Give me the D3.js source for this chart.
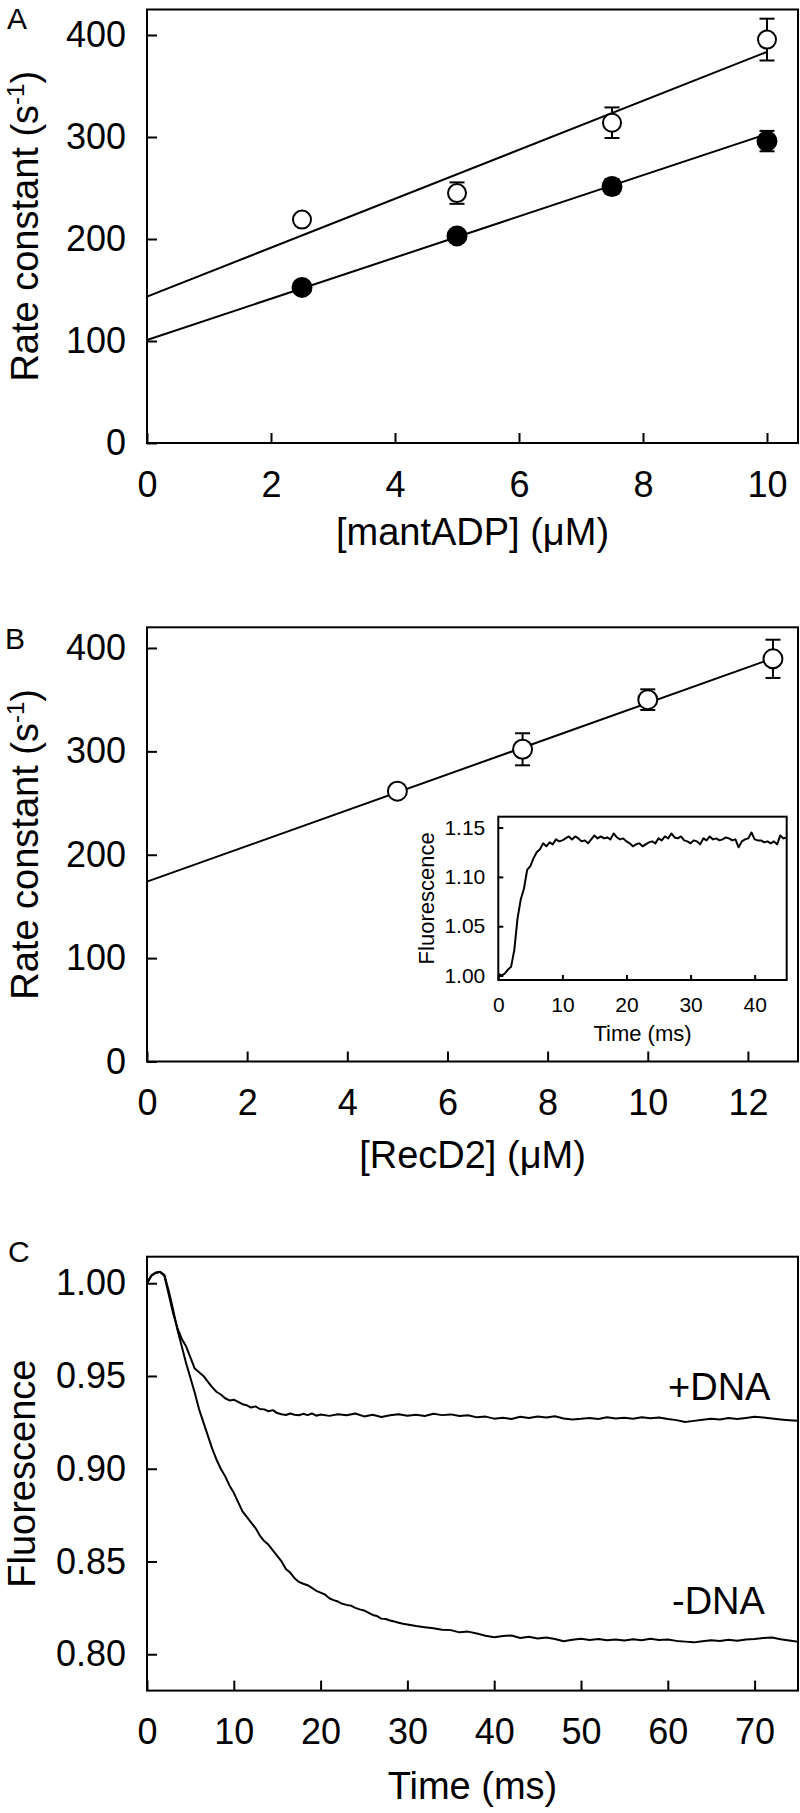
<!DOCTYPE html>
<html>
<head>
<meta charset="utf-8">
<script src="https://cdn.jsdelivr.net/npm/d3@7"></script>
<style>
html,body{margin:0;padding:0;background:#fff;}
svg{display:block;}
</style>
</head>
<body>
<svg id="chart" width="800" height="1813"></svg>
<script>
// ---------- DATA ----------
// Panel A
const aX = [2.5, 5, 7.5, 10];
const aOpen = [219, 245, 314, 395.5];
const aOpenErr = [0, 10.5, 15, 20.5];
const aFilled = [152.5, 203, 251.5, 296];
const aFilledErr = [0, 0, 7, 10];
const aOpenFit = [[0, 143.5], [10, 383.5]];
const aFilledFit = [[0, 101], [10, 303]];
const aXTicks = [0, 2, 4, 6, 8, 10];
const aYTicks = [0, 100, 200, 300, 400];

// Panel B
const bX = [5, 7.5, 10, 12.5];
const bVal = [261.5, 302, 350, 389.5];
const bErr = [0, 15.5, 10, 18.5];
const bFit = [[0, 174], [12.5, 390]];
const bXTicks = [0, 2, 4, 6, 8, 10, 12];
const bYTicks = [0, 100, 200, 300, 400];

// Panel B inset: fluorescence vs time (ms)
const insetTrace = [
[0,1.002],[0.5,1.000],[1,1.002],[1.5,1.006],[2,1.009],[2.5,1.026],[3,1.058],[3.5,1.077],[4,1.088],[4.5,1.107],
[5,1.111],[5.5,1.119],[6,1.125],[6.5,1.128],[7,1.134],[7.5,1.131],[8,1.135],[8.5,1.133],[9,1.138],[9.5,1.136],
[10,1.137],[10.5,1.139],[11,1.141],[11.5,1.138],[12,1.141],[12.5,1.139],[13,1.136],[13.5,1.137],[14,1.134],[14.5,1.138],
[15,1.142],[15.5,1.139],[16,1.141],[16.5,1.139],[17,1.140],[17.5,1.138],[18,1.144],[18.5,1.140],[19,1.138],[19.5,1.139],
[20,1.136],[20.5,1.134],[21,1.131],[21.5,1.133],[22,1.134],[22.5,1.131],[23,1.133],[23.5,1.135],[24,1.136],[24.5,1.134],
[25,1.139],[25.5,1.137],[26,1.141],[26.5,1.139],[27,1.144],[27.5,1.140],[28,1.139],[28.5,1.141],[29,1.137],[29.5,1.136],
[30,1.134],[30.5,1.137],[31,1.136],[31.5,1.133],[32,1.139],[32.5,1.137],[33,1.141],[33.5,1.138],[34,1.139],[34.5,1.137],
[35,1.138],[35.5,1.140],[36,1.139],[36.5,1.137],[37,1.138],[37.5,1.130],[38,1.136],[38.5,1.138],[39,1.139],[39.5,1.145],
[40,1.138],[40.5,1.137],[41,1.137],[41.5,1.135],[42,1.136],[42.5,1.134],[43,1.136],[43.5,1.133],[44,1.142],[44.5,1.139],[45,1.140]
];
const insetXTicks = [0, 10, 20, 30, 40];
const insetYTicks = [1.00, 1.05, 1.10, 1.15];

// Panel C traces: time (ms), fluorescence
const plusDNA = [
[0,1.000],[0.5,1.004],[1,1.0055],[1.5,1.006],[2,1.004],[2.5,0.994],[3,0.984],[3.5,0.976],[4,0.970],[4.5,0.966],
[5,0.960],[5.5,0.954],[6,0.952],[6.5,0.950],[7,0.947],[7.5,0.944],[8,0.9415],[8.5,0.940],[9,0.938],[9.5,0.9368],
[10,0.9372],[10.5,0.936],[11,0.9348],[11.5,0.9342],[12,0.933],[12.5,0.9336],[13,0.9322],[13.5,0.9320],[14,0.9310],[14.5,0.9316],
[15,0.9300],[15.5,0.9294],[16,0.9290],[16.5,0.9298],[17,0.9291],[17.5,0.9288],[18,0.9296],[18.5,0.9289],[19,0.9298],[19.5,0.9286],
[20,0.9292],[21,0.9285],[22,0.9294],[23,0.9288],[24,0.9298],[25,0.9282],[26,0.9291],[27,0.9279],[28,0.9288],[29,0.9294],
[30,0.9286],[31,0.9291],[32,0.9284],[33,0.9296],[34,0.9289],[35,0.9293],[36,0.9284],[37,0.9288],[38,0.9277],[39,0.9281],
[40,0.9270],[41,0.9275],[42,0.9268],[43,0.9280],[44,0.9274],[45,0.9282],[46,0.9276],[47,0.9283],[48,0.9271],[49,0.9266],
[50,0.9269],[51,0.9274],[52,0.9268],[53,0.9277],[54,0.9271],[55,0.9275],[56,0.9269],[57,0.9278],[58,0.9272],[59,0.9276],
[60,0.9268],[61,0.9262],[62,0.9252],[63,0.9258],[64,0.9264],[65,0.9270],[66,0.9266],[67,0.9273],[68,0.9268],[69,0.9274],
[70,0.9280],[71,0.9276],[72,0.9271],[73,0.9266],[74,0.9262],[75,0.9258]
];
const minusDNA = [
[0,1.000],[0.5,1.0042],[1,1.0058],[1.5,1.0062],[2,1.0045],[2.5,0.996],[3,0.986],[3.5,0.975],[4,0.966],[4.5,0.957],
[5,0.949],[5.5,0.941],[6,0.932],[6.5,0.925],[7,0.918],[7.5,0.911],[8,0.905],[8.5,0.900],[9,0.896],[9.5,0.891],
[10,0.887],[10.5,0.882],[11,0.877],[11.5,0.874],[12,0.871],[12.5,0.868],[13,0.864],[13.5,0.861],[14,0.859],[14.5,0.856],
[15,0.853],[15.5,0.850],[16,0.846],[16.5,0.844],[17,0.841],[17.5,0.839],[18,0.838],[18.5,0.8372],[19,0.8358],[19.5,0.8342],
[20,0.8332],[20.5,0.8322],[21,0.8302],[21.5,0.8292],[22,0.8284],[22.5,0.8272],[23,0.8266],[23.5,0.8262],[24,0.8250],[24.5,0.8242],
[25,0.8236],[25.5,0.8224],[26,0.8212],[26.5,0.8206],[27,0.8192],[27.5,0.8190],[28,0.8182],[28.5,0.8176],[29,0.8170],[29.5,0.8164],
[30,0.8160],[31,0.8152],[32,0.8146],[33,0.8140],[34,0.8132],[35,0.8130],[36,0.8118],[37,0.8122],[38,0.8112],[39,0.8100],
[40,0.8092],[41,0.8098],[42,0.8101],[43,0.8088],[44,0.8094],[45,0.8085],[46,0.8090],[47,0.8082],[48,0.8070],[49,0.8078],
[50,0.8084],[51,0.8077],[52,0.8082],[53,0.8075],[54,0.8080],[55,0.8074],[56,0.8081],[57,0.8076],[58,0.8083],[59,0.8077],
[60,0.8080],[61,0.8072],[62,0.8068],[63,0.8064],[64,0.8070],[65,0.8076],[66,0.8071],[67,0.8078],[68,0.8073],[69,0.8079],
[70,0.8082],[71,0.8088],[72,0.8090],[73,0.8081],[74,0.8074],[75,0.8067]
];
const cXTicks = [0, 10, 20, 30, 40, 50, 60, 70];
const cYTicks = [0.80, 0.85, 0.90, 0.95, 1.00];

// ---------- DRAWING ----------
const FONT = "'Liberation Sans', Arial, Helvetica, sans-serif";
const svg = d3.select("#chart");
const TICK_FS = 36, TITLE_FS = 38;

function frame(g, x, y) {
  g.append("rect")
    .attr("x", x.range()[0]).attr("y", y.range()[1])
    .attr("width", x.range()[1] - x.range()[0])
    .attr("height", y.range()[0] - y.range()[1])
    .attr("fill", "none").attr("stroke", "#000").attr("stroke-width", 2);
}

function axes(g, x, y, xt, yt, opt) {
  const o = Object.assign({fs: TICK_FS, tick: 10, padY: 21, padX: 28, fmtX: d3.format("d"), fmtY: d3.format("d")}, opt || {});
  const gx = g.append("g").attr("transform", `translate(0,${y.range()[0]})`)
    .call(d3.axisBottom(x).tickValues(xt).tickFormat(o.fmtX).tickSizeInner(-o.tick).tickSizeOuter(0).tickPadding(o.padX));
  const gy = g.append("g").attr("transform", `translate(${x.range()[0]},0)`)
    .call(d3.axisLeft(y).tickValues(yt).tickFormat(o.fmtY).tickSizeInner(-o.tick).tickSizeOuter(0).tickPadding(o.padY));
  [gx, gy].forEach(a => {
    a.select(".domain").remove();
    a.selectAll(".tick line").attr("stroke", "#000").attr("stroke-width", 2);
    a.selectAll(".tick text").attr("font-family", FONT).attr("font-size", o.fs).attr("fill", "#000");
  });
}

function errorBars(g, x, y, xs, vs, es, cap) {
  xs.forEach((xv, i) => {
    if (!es[i]) return;
    const cx = x(xv), y1 = y(vs[i] + es[i]), y2 = y(vs[i] - es[i]);
    g.append("line").attr("x1", cx).attr("x2", cx).attr("y1", y1).attr("y2", y2).attr("stroke", "#000").attr("stroke-width", 2);
    [y1, y2].forEach(yy => g.append("line").attr("x1", cx - cap).attr("x2", cx + cap).attr("y1", yy).attr("y2", yy).attr("stroke", "#000").attr("stroke-width", 2));
  });
}

function fitLine(g, x, y, pts) {
  g.append("path").datum(pts)
    .attr("d", d3.line().x(d => x(d[0])).y(d => y(d[1])))
    .attr("fill", "none").attr("stroke", "#000").attr("stroke-width", 2);
}

function circles(g, x, y, xs, vs, filled, r) {
  g.selectAll(null).data(xs.map((d, i) => [d, vs[i]])).join("circle")
    .attr("cx", d => x(d[0])).attr("cy", d => y(d[1])).attr("r", r)
    .attr("fill", filled ? "#000" : "#fff").attr("stroke", "#000").attr("stroke-width", 2);
}

function yTitle(g, xPos, yMid, parts, fs) {
  const t = g.append("text").attr("transform", `translate(${xPos},${yMid}) rotate(-90)`)
    .attr("text-anchor", "middle").attr("font-family", FONT).attr("font-size", fs).attr("fill", "#000");
  return t;
}

function label(g, txt, x, y, fs, anchor) {
  g.append("text").attr("x", x).attr("y", y).attr("text-anchor", anchor || "start")
    .attr("font-family", FONT).attr("font-size", fs).attr("fill", "#000").text(txt);
}

function rateTitle(g, xPos, yMid) {
  const t = yTitle(g, xPos, yMid, null, TITLE_FS);
  t.append("tspan").text("Rate constant (s");
  t.append("tspan").attr("dy", -14).attr("font-size", 24).text("-1");
  t.append("tspan").attr("dy", 14).text(")");
}

// ===== Panel A =====
{
  const g = svg.append("g");
  const x = d3.scaleLinear().domain([0, 10.5]).range([147, 798]);
  const y = d3.scaleLinear().domain([0, 425]).range([443, 9.5]);
  frame(g, x, y);
  axes(g, x, y, aXTicks, aYTicks);
  fitLine(g, x, y, aOpenFit);
  fitLine(g, x, y, aFilledFit);
  errorBars(g, x, y, aX, aOpen, aOpenErr, 7.5);
  errorBars(g, x, y, aX, aFilled, aFilledErr, 7.5);
  circles(g, x, y, aX, aOpen, false, 9);
  circles(g, x, y, aX, aFilled, true, 9.5);
  rateTitle(g, 38, (y.range()[0] + y.range()[1]) / 2);
  label(g, "[mantADP] (\u03BCM)", (x.range()[0] + x.range()[1]) / 2, 545, TITLE_FS, "middle");
  label(g, "A", 7, 29, 30);
}

// ===== Panel B =====
{
  const g = svg.append("g");
  const x = d3.scaleLinear().domain([0, 13]).range([147, 798]);
  const y = d3.scaleLinear().domain([0, 420]).range([1061.5, 627.3]);
  frame(g, x, y);
  axes(g, x, y, bXTicks, bYTicks);
  fitLine(g, x, y, bFit);
  errorBars(g, x, y, bX, bVal, bErr, 7.5);
  circles(g, x, y, bX, bVal, false, 9.5);
  rateTitle(g, 38, (y.range()[0] + y.range()[1]) / 2);
  label(g, "[RecD2] (\u03BCM)", (x.range()[0] + x.range()[1]) / 2, 1168, TITLE_FS, "middle");
  label(g, "B", 5, 649, 30);

  // Inset
  const gi = svg.append("g");
  const xi = d3.scaleLinear().domain([0, 45]).range([498.3, 786.7]);
  const yi = d3.scaleLinear().domain([0.9955, 1.161]).range([980, 816.7]);
  gi.append("rect").attr("x", 498.3).attr("y", 816.7).attr("width", 288.4).attr("height", 163.3).attr("fill", "#fff");
  frame(gi, xi, yi);
  axes(gi, xi, yi, insetXTicks, insetYTicks, {fs: 21, tick: 5, padY: 13, padX: 17, fmtY: d3.format(".2f")});
  gi.append("clipPath").attr("id", "clipI").append("rect")
    .attr("x", 498.3).attr("y", 816.7).attr("width", 288.4).attr("height", 163.3);
  gi.append("path").datum(insetTrace).attr("clip-path", "url(#clipI)")
    .attr("d", d3.line().x(d => xi(d[0])).y(d => yi(d[1])))
    .attr("fill", "none").attr("stroke", "#000").attr("stroke-width", 2).attr("stroke-linejoin", "round");
  const ti = yTitle(gi, 434, (yi.range()[0] + yi.range()[1]) / 2, null, 22);
  ti.text("Fluorescence");
  label(gi, "Time (ms)", (xi.range()[0] + xi.range()[1]) / 2, 1041, 22, "middle");
}

// ===== Panel C =====
{
  const g = svg.append("g");
  const x = d3.scaleLinear().domain([0, 75]).range([147, 798]);
  const y = d3.scaleLinear().domain([0.7804, 1.0143]).range([1690.6, 1256.7]);
  frame(g, x, y);
  axes(g, x, y, cXTicks, cYTicks, {fmtY: d3.format(".2f")});
  g.append("clipPath").attr("id", "clipC").append("rect")
    .attr("x", 147).attr("y", 1256.7).attr("width", 651).attr("height", 433.9);
  [plusDNA, minusDNA].forEach(tr => {
    g.append("path").datum(tr).attr("clip-path", "url(#clipC)")
      .attr("d", d3.line().x(d => x(d[0])).y(d => y(d[1])))
      .attr("fill", "none").attr("stroke", "#000").attr("stroke-width", 2).attr("stroke-linejoin", "round");
  });
  const t = yTitle(g, 35, (y.range()[0] + y.range()[1]) / 2, null, TITLE_FS);
  t.text("Fluorescence");
  label(g, "Time (ms)", (x.range()[0] + x.range()[1]) / 2, 1799, TITLE_FS, "middle");
  label(g, "+DNA", 668, 1400, TITLE_FS);
  label(g, "-DNA", 672, 1614, TITLE_FS);
  label(g, "C", 8, 1262, 30);
}
</script>
</body>
</html>
